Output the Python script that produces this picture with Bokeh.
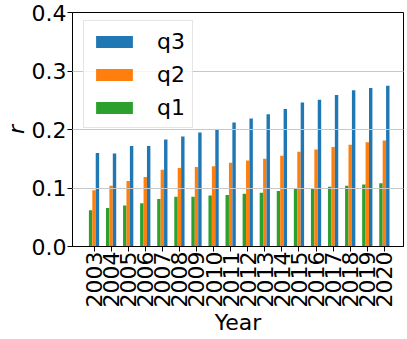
from bokeh.plotting import figure
from bokeh.models import ColumnDataSource, Range1d, FixedTicker, Legend, LegendItem
from bokeh.transform import dodge
from bokeh.embed import file_html
from bokeh.resources import INLINE
import math

years = [2003, 2004, 2005, 2006, 2007, 2008, 2009, 2010, 2011,
         2012, 2013, 2014, 2015, 2016, 2017, 2018, 2019, 2020]
q1 = [0.062, 0.066, 0.070, 0.074, 0.081, 0.085, 0.085, 0.087, 0.088,
      0.090, 0.092, 0.095, 0.099, 0.100, 0.102, 0.104, 0.106, 0.108]
q2 = [0.096, 0.104, 0.112, 0.119, 0.131, 0.134, 0.136, 0.137, 0.143,
      0.147, 0.150, 0.155, 0.162, 0.166, 0.170, 0.174, 0.178, 0.181]
q3 = [0.160, 0.159, 0.172, 0.172, 0.183, 0.188, 0.195, 0.200, 0.212,
      0.219, 0.226, 0.235, 0.246, 0.251, 0.259, 0.267, 0.271, 0.275]
y_ticks = [0.0, 0.1, 0.2, 0.3, 0.4]

src = ColumnDataSource(dict(year=years, q1=q1, q2=q2, q3=q3))

FONT = "DejaVu Sans"
X0, X1 = 2001.74, 2021.12
p = figure(width=407, height=339, output_backend="svg", toolbar_location=None,
           x_range=Range1d(X0, X1), y_range=Range1d(0, 0.4),
           min_border_left=71, min_border_right=4, min_border_top=12, min_border_bottom=93)

bw = 0.2
r1 = p.vbar(x=dodge("year", -0.2), top="q1", width=bw, source=src, fill_color="#2ca02c", line_color=None)
r2 = p.vbar(x=dodge("year", 0.0), top="q2", width=bw, source=src, fill_color="#ff7f0e", line_color=None)
r3 = p.vbar(x=dodge("year", 0.2), top="q3", width=bw, source=src, fill_color="#1f77b4", line_color=None)

p.xgrid.visible = False
p.ygrid.grid_line_color = "#c8c8c8"
p.ygrid.grid_line_width = 1
p.ygrid.level = "guide"
p.ygrid.ticker = FixedTicker(ticks=y_ticks)

p.outline_line_color = "black"
p.outline_line_width = 1
p.outline_line_alpha = 1

for ax in (p.xaxis[0], p.yaxis[0]):
    ax.axis_line_color = "black"
    ax.major_tick_line_color = "black"
    ax.major_tick_out = 5
    ax.major_tick_in = 0
    ax.minor_tick_line_color = None
    ax.major_label_text_font = FONT
    ax.major_label_text_font_size = "22px"
    ax.major_label_text_color = "black"
    ax.axis_label_text_font = FONT
    ax.axis_label_text_font_size = "22px"
    ax.axis_label_text_color = "black"
    ax.axis_label_standoff = 0

p.xaxis.ticker = FixedTicker(ticks=years)
p.xaxis.major_label_overrides = {y: str(y) for y in years}
p.xaxis.major_label_orientation = math.pi / 2
p.xaxis.major_label_standoff = 0
p.xaxis.axis_label = "Year"
p.xaxis.axis_label_text_font_style = "normal"

p.yaxis.ticker = FixedTicker(ticks=y_ticks)
p.yaxis.major_label_overrides = {t: f"{t:.1f}" for t in y_ticks}
p.yaxis.major_label_standoff = 1
p.yaxis.axis_label = "r"
p.yaxis.axis_label_text_font_style = "italic"

legend = Legend(items=[LegendItem(label="q3", renderers=[r3]),
                       LegendItem(label="q2", renderers=[r2]),
                       LegendItem(label="q1", renderers=[r1])],
                location=(11, 118))
legend.margin = 0
legend.padding = 7
legend.spacing = 7
legend.glyph_width = 46
legend.glyph_height = 15
legend.label_height = 26
legend.label_standoff = 20
legend.label_text_font = FONT
legend.label_text_font_size = "22px"
legend.label_text_color = "black"
legend.label_text_baseline = "middle"
legend.border_line_color = "#cccccc"
legend.border_line_width = 1
legend.background_fill_color = "white"
legend.background_fill_alpha = 0.8
p.add_layout(legend)

open("out.html", "w").write(file_html(p, INLINE))
